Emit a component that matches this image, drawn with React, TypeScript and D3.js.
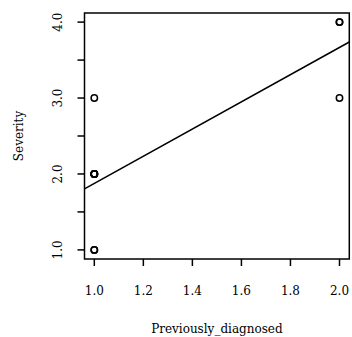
import React from "react";
import * as d3 from "d3";

// previously diagnosed (x) and severity (y), one entry per respondent
const previouslyDiagnosed = [1, 1, 1, 1, 1, 1, 1, 1, 2, 2, 2];
const severity = [1, 2, 2, 2, 2, 2, 1, 3, 3, 4, 4];

const xTicks = [1.0, 1.2, 1.4, 1.6, 1.8, 2.0];
const yTicks = [1.0, 1.5, 2.0, 2.5, 3.0, 3.5, 4.0];
const yLabels = [1.0, 2.0, 3.0, 4.0];

const W = 352;
const H = 337;
const margin = { top: 13, right: 2.7, bottom: 78, left: 84.5 };
const font = "DejaVu Serif, serif";

export default function App() {
  const x = d3
    .scaleLinear()
    .domain([0.96, 2.04])
    .range([margin.left, W - margin.right]);
  const y = d3
    .scaleLinear()
    .domain([0.88, 4.12])
    .range([H - margin.bottom, margin.top]);

  // least squares fit
  const mx = d3.mean(previouslyDiagnosed)!;
  const my = d3.mean(severity)!;
  let sxy = 0;
  let sxx = 0;
  previouslyDiagnosed.forEach((v, i) => {
    sxy += (v - mx) * (severity[i] - my);
    sxx += (v - mx) * (v - mx);
  });
  const slope = sxy / sxx;
  const intercept = my - slope * mx;
  const [x0, x1] = x.domain();

  const plotBottom = H - margin.bottom;
  const tick = 7;

  return (
    <svg
      width={W}
      height={H}
      style={{ position: "absolute", left: 0, top: 0, background: "#fff" }}
      fontFamily={font}
    >
      {/* regression line */}
      <line
        x1={x(x0)}
        y1={y(intercept + slope * x0)}
        x2={x(x1)}
        y2={y(intercept + slope * x1)}
        stroke="#000"
        strokeWidth={1.5}
      />
      {previouslyDiagnosed.map((v, i) => (
        <circle
          key={i}
          cx={x(v)}
          cy={y(severity[i])}
          r={3.2}
          fill="none"
          stroke="#000"
          strokeWidth={1.5}
        />
      ))}
      <rect
        x={margin.left}
        y={margin.top}
        width={W - margin.left - margin.right}
        height={plotBottom - margin.top}
        fill="none"
        stroke="#000"
        strokeWidth={1.5}
      />
      {/* x axis */}
      {xTicks.map((t) => (
        <g key={t}>
          <line x1={x(t)} x2={x(t)} y1={plotBottom} y2={plotBottom + tick} stroke="#000" strokeWidth={1.5} />
          <text x={x(t)} y={295} textAnchor="middle" fontSize={12}>
            {t.toFixed(1)}
          </text>
        </g>
      ))}
      {/* y axis */}
      {yTicks.map((t) => (
        <line key={t} x1={margin.left - tick} x2={margin.left} y1={y(t)} y2={y(t)} stroke="#000" strokeWidth={1.5} />
      ))}
      {yLabels.map((t) => (
        <text
          key={t}
          transform={`translate(61.5,${y(t)}) rotate(-90)`}
          textAnchor="middle"
          fontSize={12}
        >
          {t.toFixed(1)}
        </text>
      ))}
      <text x={(margin.left + W - margin.right) / 2} y={333} textAnchor="middle" fontSize={12}>
        Previously_diagnosed
      </text>
      <text
        transform={`translate(22.5,${(margin.top + plotBottom) / 2}) rotate(-90)`}
        textAnchor="middle"
        fontSize={12}
      >
        Severity
      </text>
    </svg>
  );
}
